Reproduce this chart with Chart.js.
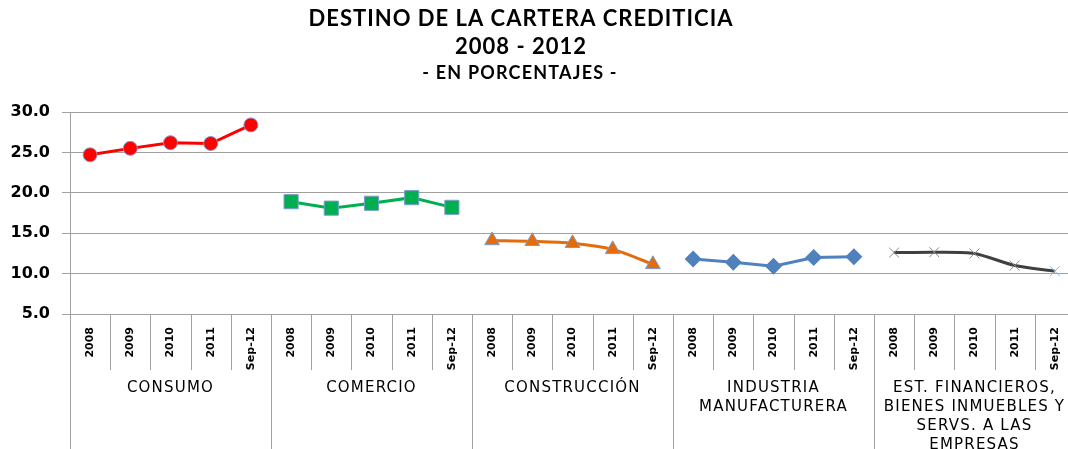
<!DOCTYPE html>
<html>
<head>
<meta charset="utf-8">
<script src="https://cdn.jsdelivr.net/npm/chart.js@4.4.1/dist/chart.umd.min.js"></script>
<style>
  html, body { margin: 0; padding: 0; background: #fff; overflow: hidden; }
  #wrap { width: 1068px; height: 449px; overflow: hidden; }
</style>
</head>
<body>
<div id="wrap"><canvas id="chartCartera" width="1086" height="449"></canvas></div>
<script>
// datos
const titulos = ["DESTINO DE LA CARTERA CREDITICIA", "2008 - 2012"];
const subtitulo = "- EN PORCENTAJES -";
const periodos = ["2008", "2009", "2010", "2011", "Sep-12"];
const sectores = [
  ["CONSUMO"],
  ["COMERCIO"],
  ["CONSTRUCCIÓN"],
  ["INDUSTRIA", "MANUFACTURERA"],
  ["EST. FINANCIEROS,", "BIENES INMUEBLES Y", "SERVS. A LAS", "EMPRESAS"],
];
const consumo = [24.7, 25.5, 26.2, 26.1, 28.4];
const comercio = [18.9, 18.1, 18.7, 19.4, 18.2];
const construccion = [14.1, 14.0, 13.75, 13.0, 11.15];
const industria = [11.8, 11.4, 10.9, 12.0, 12.1];
const estFinancieros = [12.6, 12.65, 12.5, 11.0, 10.3];
const yTicks = [5, 10, 15, 20, 25, 30];

const labels = [];
sectores.forEach(() => periodos.forEach((p) => labels.push(p)));

// pone cada serie en su bloque de 5 categorias
function enBloque(valores, bloque) {
  const out = labels.map(() => null);
  valores.forEach((v, i) => (out[bloque * periodos.length + i] = v));
  return out;
}

const bordeCruz = labels.map((_, i) => (i === labels.length - 1 ? "#8EB4E3" : "#8C8C8C"));

const data = {
  labels,
  datasets: [
    {
      label: "CONSUMO",
      data: enBloque(consumo, 0),
      borderColor: "#FF0000",
      backgroundColor: "#FF0000",
      borderWidth: 3,
      pointStyle: "circle",
      pointRadius: 7,
      pointBorderColor: "#7A9CCF",
      pointBorderWidth: 1,
      tension: 0,
    },
    {
      label: "COMERCIO",
      data: enBloque(comercio, 1),
      borderColor: "#00B050",
      backgroundColor: "#00B050",
      borderWidth: 3,
      pointStyle: "rect",
      pointRadius: 10,
      pointBorderColor: "#7A9CCF",
      pointBorderWidth: 1,
      tension: 0,
    },
    {
      label: "CONSTRUCCIÓN",
      data: enBloque(construccion, 2),
      borderColor: "#E46C0A",
      backgroundColor: "#E46C0A",
      borderWidth: 3,
      pointStyle: "triangle",
      pointRadius: 8.5,
      pointBorderColor: "#7A9CCF",
      pointBorderWidth: 1,
      tension: 0.3,
    },
    {
      label: "INDUSTRIA MANUFACTURERA",
      data: enBloque(industria, 3),
      borderColor: "#4F81BD",
      backgroundColor: "#4F81BD",
      borderWidth: 3,
      pointStyle: "rectRot",
      pointRadius: 8.5,
      pointBorderWidth: 0,
      tension: 0,
    },
    {
      label: "EST. FINANCIEROS",
      data: enBloque(estFinancieros, 4),
      borderColor: "#404040",
      backgroundColor: "#404040",
      borderWidth: 3,
      pointStyle: "crossRot",
      pointRadius: 7,
      pointBorderColor: bordeCruz,
      pointBorderWidth: 1,
      tension: 0.25,
    },
  ],
};

const ejeGris = "#A0A0A0";

const encabezado = {
  id: "encabezado",
  afterDraw(chart) {
    const ctx = chart.ctx;
    ctx.save();
    ctx.fillStyle = "#000";
    ctx.textAlign = "center";
    ctx.textBaseline = "middle";
    ctx.letterSpacing = "1px";
    ctx.font = "bold 22px Lato";
    ctx.fillText(titulos[0], 521, 19);
    ctx.fillText(titulos[1], 521, 47);
    ctx.letterSpacing = "1.2px";
    ctx.font = "bold 18px Lato";
    ctx.fillText(subtitulo, 520, 73);
    ctx.restore();
  },
};

const sectoresEje = {
  id: "sectoresEje",
  afterDraw(chart) {
    const ctx = chart.ctx;
    const x = chart.scales.x;
    const area = chart.chartArea;
    const paso = x.getPixelForTick(1) - x.getPixelForTick(0);
    ctx.save();
    ctx.strokeStyle = ejeGris;
    ctx.lineWidth = 1;
    // eje vertical prolongado
    ctx.beginPath();
    ctx.moveTo(area.left + 0.5, area.top);
    ctx.lineTo(area.left + 0.5, chart.height);
    ctx.stroke();
    labels.forEach((_, i) => {
      if (i === 0) return;
      const px = Math.round(x.getPixelForTick(i) - paso / 2) + 0.5;
      const largo = i % periodos.length === 0 ? chart.height : area.bottom + 56;
      ctx.beginPath();
      ctx.moveTo(px, area.bottom);
      ctx.lineTo(px, largo);
      ctx.stroke();
    });
    ctx.fillStyle = "#000";
    ctx.textAlign = "center";
    ctx.textBaseline = "middle";
    ctx.font = "15px 'DejaVu Sans'";
    ctx.letterSpacing = "1.2px";
    sectores.forEach((lineas, g) => {
      const ini = x.getPixelForTick(g * periodos.length) - paso / 2;
      const cx = ini + (paso * periodos.length) / 2;
      lineas.forEach((t, k) => ctx.fillText(t, cx, 388 + k * 19));
    });
    ctx.restore();
  },
};

const config = {
  type: "line",
  data,
  options: {
    responsive: false,
    animation: false,
    spanGaps: false,
    layout: { padding: { top: 112, left: 0, right: 11, bottom: 0 } },
    plugins: {
      legend: { display: false },
      tooltip: { enabled: false },
    },
    scales: {
      x: {
        type: "category",
        offset: true,
        grid: { display: false },
        border: { display: false },
        ticks: {
          autoSkip: false,
          minRotation: 90,
          maxRotation: 90,
          padding: 5,
          color: "#000",
          font: { family: "DejaVu Sans", size: 11, weight: "bold" },
        },
        afterFit: (scale) => {
          scale.height = 135;
        },
      },
      y: {
        min: 5,
        max: 30,
        afterBuildTicks: (scale) => {
          scale.ticks = yTicks.map((v) => ({ value: v }));
        },
        grid: {
          color: ejeGris,
          lineWidth: 1,
          drawTicks: true,
          tickLength: 8,
        },
        border: { display: true, color: ejeGris },
        ticks: {
          padding: 12,
          color: "#000",
          font: { family: "DejaVu Sans", size: 16, weight: "bold" },
          callback: (v) => Number(v).toFixed(1),
        },
        afterFit: (scale) => {
          scale.width = 70;
        },
      },
    },
  },
  plugins: [encabezado, sectoresEje],
};

const chartCartera = new Chart(document.getElementById("chartCartera"), config);
</script>
</body>
</html>
